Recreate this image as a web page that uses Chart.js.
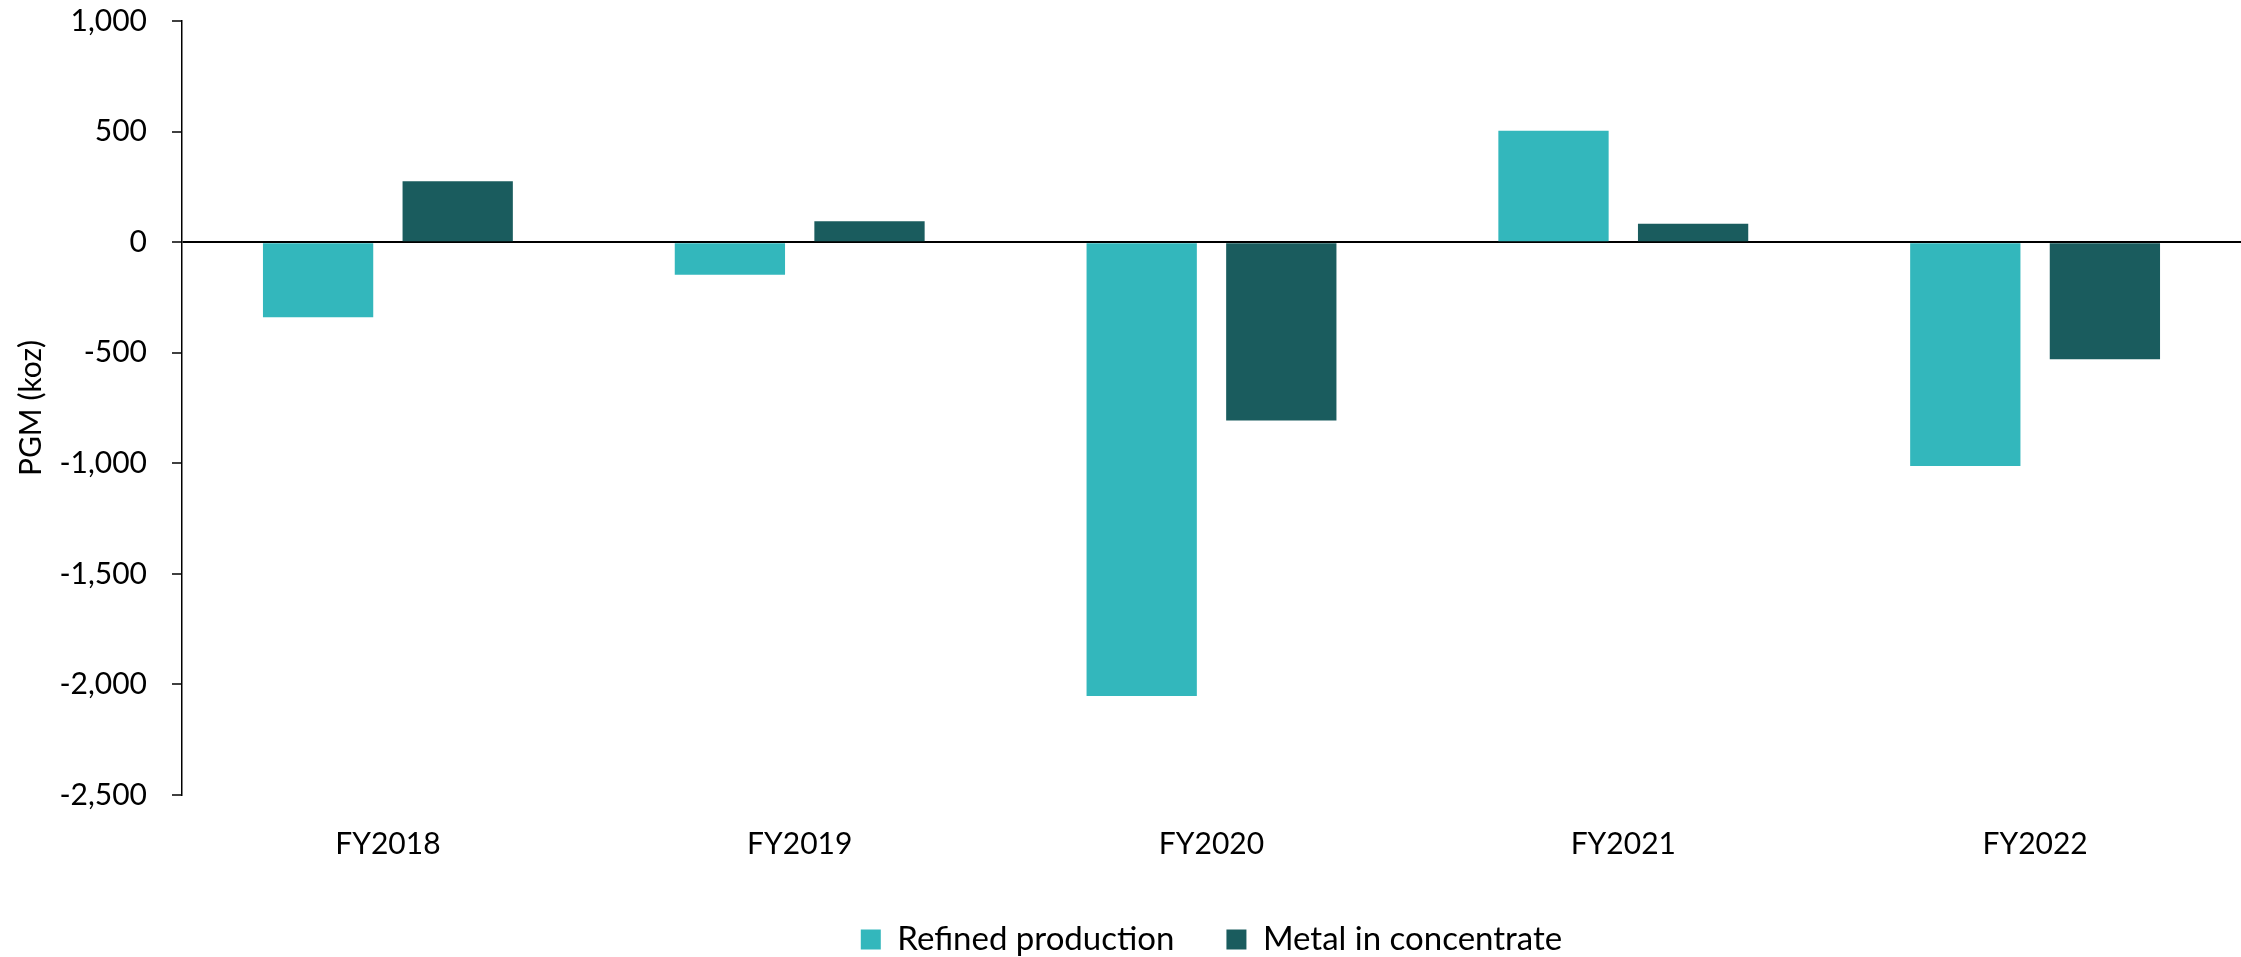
<!DOCTYPE html>
<html>
<head>
<meta charset="utf-8">
<script src="https://cdn.jsdelivr.net/npm/chart.js@4/dist/chart.umd.min.js"></script>
<style>
  html, body { margin: 0; padding: 0; background: #fff; }
  #wrap { width: 2241px; height: 957px; }
</style>
</head>
<body>
<div id="wrap"><canvas id="grafico"></canvas></div>
<script>
var categorias = ["FY2018", "FY2019", "FY2020", "FY2021", "FY2022"];
var refinado = [-340, -147, -2052, 504, -1012];
var concentrado = [275, 95, -806, 83, -530];
var nombresSeries = ["Refined production", "Metal in concentrate"];
var colores = ["#33B7BC", "#1A5C5E"];
var tituloEje = "PGM (koz)";

var fuente = "Lato, 'Open Sans', sans-serif";

var data = {
    labels: categorias,
    datasets: [{
        label: nombresSeries[0],
        backgroundColor: colores[0],
        data: refinado
    }, {
        label: nombresSeries[1],
        backgroundColor: colores[1],
        data: concentrado
    }]
};

var ctx1 = document.getElementById("grafico").getContext("2d");
window.myBar = new Chart(ctx1, {
    type: "bar",
    data: data,
    options: {
        responsive: true,
        maintainAspectRatio: false,
        animation: false,
        categoryPercentage: 0.678,
        barPercentage: 0.79,
        layout: { padding: { top: 0, right: 0, bottom: -9, left: 0 } },
        plugins: {
            legend: {
                display: true,
                position: "bottom",
                fullSize: false,
                labels: {
                    font: { family: fuente, size: 33 },
                    color: "#000",
                    boxWidth: 20,
                    boxHeight: 20,
                    padding: 52
                }
            },
            title: { display: false },
            tooltip: { enabled: false }
        },
        scales: {
            x: {
                afterFit: function (scale) { scale.height = 76; },
                grid: { display: false, drawTicks: false },
                border: { display: false },
                ticks: {
                    font: { family: fuente, size: 30 },
                    color: "#000",
                    padding: 31
                }
            },
            y: {
                min: -2500,
                max: 1000,
                afterFit: function (scale) {
                    scale.width = 182;
                    scale.paddingTop = 21;
                    scale.paddingBottom = 0;
                },
                ticks: {
                    stepSize: 500,
                    font: { family: fuente, size: 30 },
                    color: "#000",
                    padding: 25,
                    callback: function (v) { return v.toLocaleString("en-US"); }
                },
                grid: {
                    drawOnChartArea: true,
                    color: function (c) { return c.tick && c.tick.value === 0 ? "#000" : "rgba(0,0,0,0)"; },
                    lineWidth: 2,
                    tickColor: "#000",
                    tickLength: 10,
                    tickWidth: 1.5
                },
                border: { display: true, color: "#000", width: 1.5 },
                title: {
                    display: true,
                    text: tituloEje,
                    font: { family: fuente, size: 30 },
                    color: "#000",
                    padding: { top: 13, bottom: 0 }
                }
            }
        }
    }
});
</script>
</body>
</html>
